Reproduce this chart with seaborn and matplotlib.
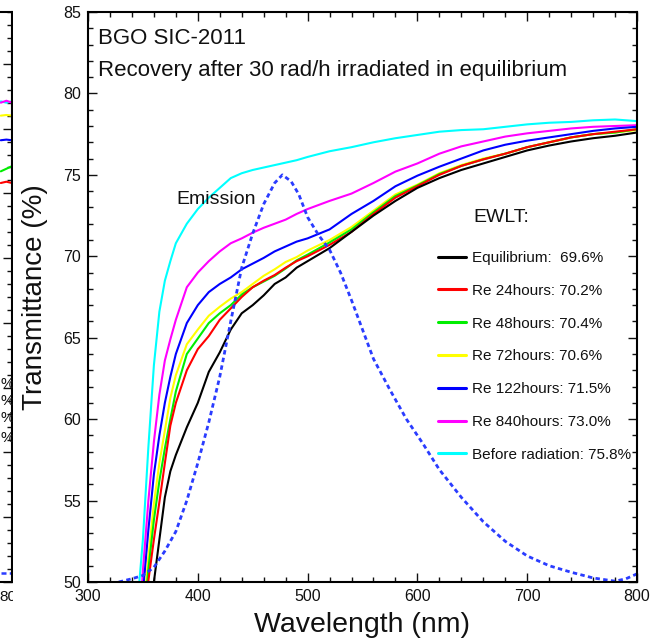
import numpy as np
import pandas as pd
import matplotlib
matplotlib.use("Agg")
import matplotlib.pyplot as plt
from matplotlib.ticker import MultipleLocator, FixedLocator
from matplotlib.patches import Rectangle
from matplotlib.lines import Line2D
import seaborn as sns

# ---- transmittance spectra (%) vs wavelength (nm) ----
wavelength = [340, 345, 350, 355, 360, 365, 370, 375, 380, 390, 400, 410, 420, 430,
              440, 450, 460, 470, 480, 490, 500, 520, 540, 560, 580, 600, 620, 640,
              660, 680, 700, 720, 740, 760, 780, 800]

equilibrium = [30.0, 36.0, 42.0, 46.5, 50.0, 52.6, 55.2, 56.8, 57.8, 59.5, 61.0, 62.9,
               64.1, 65.5, 66.5, 67.0, 67.6, 68.3, 68.7, 69.3, 69.7, 70.5, 71.5, 72.5,
               73.4, 74.2, 74.8, 75.3, 75.7, 76.1, 76.5, 76.8, 77.05, 77.25, 77.4, 77.6]
re_24h = [37.0, 41.5, 46.0, 50.1, 52.6, 54.9, 57.3, 59.6, 61.0, 63.0, 64.3, 65.1,
          66.1, 66.8, 67.5, 68.1, 68.5, 68.85, 69.3, 69.7, 70.0, 70.7, 71.5, 72.6,
          73.6, 74.3, 75.0, 75.55, 75.95, 76.3, 76.7, 77.0, 77.3, 77.5, 77.65, 77.8]
re_48h = [38.5, 42.5, 47.0, 50.8, 53.8, 56.2, 58.2, 60.0, 61.7, 64.0, 64.95, 65.9,
          66.5, 67.0, 67.65, 68.1, 68.45, 68.8, 69.25, 69.75, 70.1, 70.85, 71.65, 72.7,
          73.7, 74.35, 75.05, 75.55, 75.95, 76.3, 76.7, 77.0, 77.3, 77.5, 77.6, 77.8]
re_72h = [39.0, 43.0, 47.8, 51.5, 54.8, 57.3, 59.3, 61.3, 62.7, 64.6, 65.5, 66.35,
          66.9, 67.4, 67.8, 68.3, 68.8, 69.2, 69.65, 69.95, 70.35, 71.0, 71.8, 72.8,
          73.8, 74.4, 75.1, 75.6, 76.0, 76.3, 76.7, 77.0, 77.3, 77.5, 77.6, 77.75]
re_122h = [40.0, 44.0, 49.3, 53.2, 56.6, 59.0, 61.0, 62.6, 64.0, 65.9, 67.0, 67.8,
           68.3, 68.7, 69.2, 69.55, 69.9, 70.3, 70.6, 70.9, 71.1, 71.65, 72.6, 73.4,
           74.3, 74.95, 75.5, 76.0, 76.5, 76.85, 77.1, 77.3, 77.5, 77.7, 77.85, 77.95]
re_840h = [41.0, 45.5, 50.7, 55.0, 58.6, 61.5, 63.6, 64.9, 66.1, 68.1, 69.0, 69.7,
           70.3, 70.8, 71.1, 71.45, 71.75, 72.0, 72.25, 72.6, 72.9, 73.4, 73.85, 74.5,
           75.2, 75.7, 76.3, 76.75, 77.05, 77.35, 77.55, 77.7, 77.85, 77.95, 78.0, 78.05]
before_rad = [42.0, 48.6, 52.6, 58.3, 63.3, 66.6, 68.5, 69.7, 70.8, 72.0, 72.9, 73.6,
              74.2, 74.8, 75.1, 75.3, 75.45, 75.6, 75.75, 75.9, 76.1, 76.45, 76.7, 77.0,
              77.25, 77.45, 77.65, 77.75, 77.8, 77.95, 78.1, 78.2, 78.25, 78.35, 78.4, 78.3]

series_names = ["Equilibrium", "Re 24hours", "Re 48hours", "Re 72hours",
                "Re 122hours", "Re 840hours", "Before radiation"]
ewlt_values = ["69.6%", "70.2%", "70.4%", "70.6%", "71.5%", "73.0%", "75.8%"]
series_colors = ["#000000", "#ff0000", "#00ee00", "#ffff00", "#0000ff", "#ff00ff", "#00ffff"]

# ---- BGO emission spectrum (scaled onto the same axis) ----
emission_wl = [328, 340, 350, 360, 370, 380, 390, 400, 410, 420, 430, 440, 450, 460,
               470, 477, 485, 492, 500, 510, 520, 530, 540, 550, 560, 575, 590, 605,
               620, 640, 660, 680, 700, 720, 740, 760, 780, 790, 800]
emission = [50.0, 50.2, 50.4, 50.9, 51.9, 53.1, 55.0, 57.3, 59.8, 62.6, 66.0, 69.3,
            71.4, 73.2, 74.5, 75.0, 74.6, 73.8, 72.4, 71.3, 70.4, 69.0, 67.3, 65.5,
            63.7, 61.8, 60.0, 58.5, 56.9, 55.2, 53.7, 52.5, 51.6, 51.0, 50.6, 50.25,
            50.05, 50.2, 50.5]

# ---- edge of the neighbouring panel ----
side_wl = [790, 795, 800]
side_cyan = [77.1, 77.0, 77.1]
side_magenta = [77.0, 77.15, 77.0]
side_yellow = [76.0, 76.05, 76.0]
side_blue = [74.1, 74.15, 74.1]
side_green = [71.7, 71.9, 72.1]
side_red = [70.8, 70.9, 70.8]
side_emission = [40.7, 40.7, 40.7]

sns.set_style("ticks")
plt.rcParams["font.family"] = ["Liberation Sans", "DejaVu Sans"]
plt.rcParams["text.color"] = "#111111"
plt.rcParams["axes.labelcolor"] = "#111111"
plt.rcParams["xtick.color"] = "#111111"
plt.rcParams["ytick.color"] = "#111111"

W, H = 652, 644
fig = plt.figure(figsize=(W / 100, H / 100), dpi=100)
fig.patch.set_facecolor("white")

# neighbouring panel (only its right edge is visible)
side = fig.add_axes([(12 - 112) / W, 1 - 582 / H, 112 / W, 570 / H])
side.set_zorder(0)
side_df = pd.DataFrame({
    "wl": side_wl * 6,
    "T": side_cyan + side_magenta + side_yellow + side_blue + side_green + side_red,
    "s": sum([[k] * 3 for k in ["c", "m", "y", "b", "g", "r"]], []),
})
sns.lineplot(data=side_df, x="wl", y="T", hue="s", estimator=None, sort=False,
             palette={"c": "#00ffff", "m": "#ff00ff", "y": "#ffff00", "b": "#0000ff",
                      "g": "#00ee00", "r": "#ff0000"},
             lw=1.5, legend=False, ax=side)
sns.lineplot(x=side_wl, y=side_emission, color="#2a3cff", lw=1.8,
             linestyle=(0, (2, 1.3)), ax=side)
side.set_xlim(700, 800)
side.set_ylim(40, 84)
side.yaxis.set_major_locator(MultipleLocator(5))
side.yaxis.set_minor_locator(MultipleLocator(1))
side.xaxis.set_major_locator(FixedLocator([800]))
side.set_xticklabels(["800"])
side.tick_params(which="both", direction="in", left=False, right=True,
                 labelleft=False, width=1.0)
side.tick_params(axis="y", which="major", length=6.5)
side.tick_params(axis="y", which="minor", length=3.5)
side.tick_params(axis="x", length=0, labelsize=11, pad=6)
side.set_xlabel("")
side.set_ylabel("")
for sp in side.spines.values():
    sp.set_linewidth(1.5)
    sp.set_color("black")
for yy in [384, 401, 418, 438]:
    fig.text(0.5 / W, 1 - yy / H, "%", ha="left", va="center", fontsize=11, zorder=0.5)

fig.add_artist(Rectangle((13.5 / W, 0), (88 - 13.5) / W, 1, transform=fig.transFigure,
                         facecolor="white", edgecolor="none", zorder=1))

# main panel
ax = fig.add_axes([88 / W, 1 - 582 / H, (637 - 88) / W, (582 - 12) / H])
ax.set_zorder(2)

curves = [equilibrium, re_24h, re_48h, re_72h, re_122h, re_840h, before_rad]
df = pd.DataFrame({
    "Wavelength": wavelength * len(curves),
    "Transmittance": sum(curves, []),
    "Sample": sum([[n] * len(wavelength) for n in series_names], []),
})
sns.lineplot(data=df, x="Wavelength", y="Transmittance", hue="Sample",
             hue_order=series_names[::-1], palette=dict(zip(series_names, series_colors)),
             estimator=None, sort=False, lw=1.5, legend=False, ax=ax)
sns.lineplot(x=emission_wl, y=emission, color="#2a3cff", lw=2.0,
             linestyle=(0, (1.6, 1.2)), ax=ax)

ax.set_xlim(300, 800)
ax.set_ylim(50, 85)
ax.xaxis.set_major_locator(MultipleLocator(100))
ax.xaxis.set_minor_locator(MultipleLocator(20))
ax.yaxis.set_major_locator(MultipleLocator(5))
ax.yaxis.set_minor_locator(MultipleLocator(1))
ax.tick_params(which="both", direction="in", top=True, right=True, width=1.0)
ax.tick_params(which="major", length=6.5, labelsize=11.5, pad=5)
ax.tick_params(which="minor", length=3.5)
for sp in ax.spines.values():
    sp.set_linewidth(1.5)
    sp.set_color("black")

ax.set_xlabel("Wavelength (nm)", fontsize=20.5, labelpad=6)
ax.set_ylabel("Transmittance (%)", fontsize=20, labelpad=11)

ax.text(0.018, 1 - (44 - 12) / 570, "BGO SIC-2011", transform=ax.transAxes,
        fontsize=16, va="baseline", ha="left")
ax.text(0.018, 1 - (76 - 12) / 570, "Recovery after 30 rad/h irradiated in equilibrium",
        transform=ax.transAxes, fontsize=16, va="baseline", ha="left")
ax.text((176 - 88) / 549, 1 - (200 - 12) / 570, "Emission", transform=ax.transAxes,
        fontsize=14, va="center", ha="left")
ax.text((473 - 88) / 549, 1 - (218 - 12) / 570, "EWLT:", transform=ax.transAxes,
        fontsize=14, va="center", ha="left")

handles = [Line2D([], [], color=c, lw=2.2) for c in series_colors]
labels = [f"{n}: {v}" if i else f"{n}:  {v}"
          for i, (n, v) in enumerate(zip(series_names, ewlt_values))]
ax.legend(handles, labels, loc="upper left",
          bbox_to_anchor=((438 - 88) / 549, 1 - (251 - 12) / 570),
          frameon=False, fontsize=11, borderpad=0, borderaxespad=0,
          handlelength=1.85, handletextpad=0.4, labelspacing=1.23)

fig.savefig("out.png", dpi=100, facecolor="white")
